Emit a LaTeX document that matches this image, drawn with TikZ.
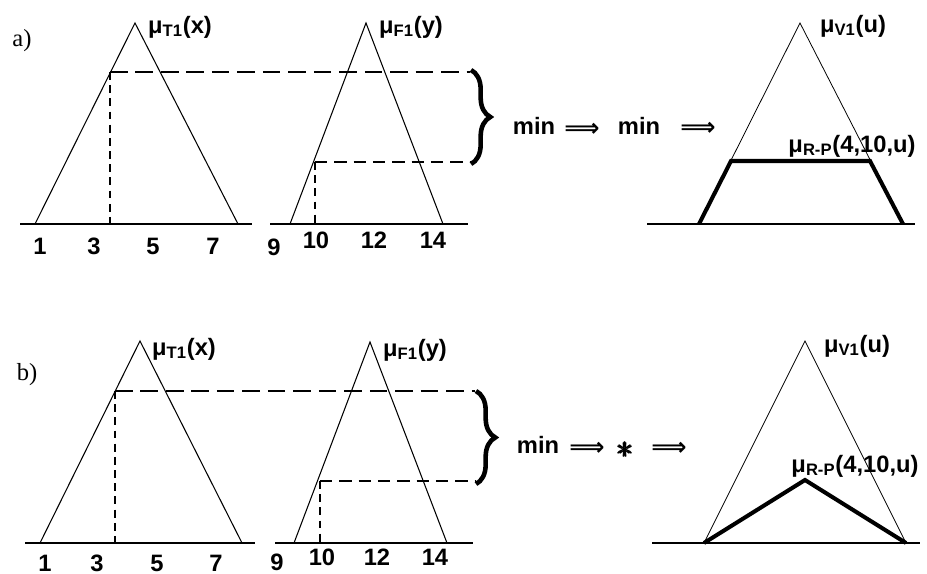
\documentclass[tikz,border=0pt]{standalone}
\usepackage{amsmath}
\usepackage{fontspec}
\setmainfont{Liberation Serif}
\newfontfamily\lblfont{Liberation Sans}
\newfontfamily\arrowfont{DejaVu Sans}
\usepackage{tikz}
\usetikzlibrary{decorations.pathreplacing}

\begin{document}
\begin{tikzpicture}[x=0.02cm,y=-0.02cm,
    memb/.style={line width=0.6pt},
    axis/.style={line width=0.8pt},
    cut/.style={line width=0.85pt,dash pattern=on 10pt off 4.5pt},
    cutlow/.style={line width=0.85pt,dash pattern=on 7pt off 4pt},
    drop/.style={line width=0.85pt,dash pattern=on 4.5pt off 3pt},
    result/.style={line width=2.3pt},
    lbl/.style={font=\lblfont\bfseries\fontsize{13.5}{15}\selectfont,inner sep=0pt},
    impl/.style={font=\arrowfont\bfseries\fontsize{14}{15}\selectfont,inner sep=0pt},
    part/.style={font=\fontsize{14}{16}\selectfont,inner sep=0pt},
    curly/.style={decorate,decoration={brace,amplitude=11pt},line width=2.6pt}]
    \useasboundingbox (0,0) rectangle (927,574);

    % a) min, then min
    \node[part] (pa) at (22,41) {a)};
    \draw[axis] (20,224)--(252,224);
    \draw[memb] (35,224)--(135,23)--(238,224);
    \node[lbl] (ta) at (180,27) {μ\textsubscript{T1}(x)};
    \draw[cut] (110,72)--(470,72);
    \draw[drop] (110,72)--(110,224);
    \node[lbl] (xa1) at (40,246) {1};
    \node[lbl] (xa3) at (94,246) {3};
    \node[lbl] (xa5) at (153,246) {5};
    \node[lbl] (xa7) at (213,246) {7};
    \draw[axis] (270,224)--(468,224);
    \draw[memb] (290,224)--(366,23)--(443,224);
    \node[lbl] (fa) at (411,27) {μ\textsubscript{F1}(y)};
    \draw[cutlow] (315,162)--(470,162);
    \draw[drop] (315,162)--(315,224);
    \node[lbl] (ya9) at (274,247) {9};
    \node[lbl] (ya10) at (316,240) {10};
    \node[lbl] (ya12) at (374,240) {12};
    \node[lbl] (ya14) at (433,240) {14};
    \draw[curly] (471,70)--(471,164);
    \node[lbl] (mina) at (534,126) {min};
    \node[impl] (ia1) at (582,130) {⟹};
    \node[lbl] (minb) at (639,126) {min};
    \node[impl] (ia2) at (698,129) {⟹};
    \draw[axis] (647,224)--(915,224);
    \draw[line width=0.45pt] (699,224)--(800,23)--(903,224);
    \node[lbl] (va) at (853,26) {μ\textsubscript{V1}(u)};
    \draw[result] (699,224)--(731,161)--(870,161)--(903,224);
    \node[lbl] (ra) at (852,146) {μ\textsubscript{R-P}(4,10,u)};

    % b) min, then product
    \node[part] (pb) at (27,375) {b)};
    \draw[axis] (25,543)--(255,543);
    \draw[memb] (40,543)--(140,341)--(242,543);
    \node[lbl] (tb) at (184,349) {μ\textsubscript{T1}(x)};
    \draw[cut] (115,391)--(475,391);
    \draw[drop] (115,391)--(115,543);
    \node[lbl] (xb1) at (45,563) {1};
    \node[lbl] (xb3) at (97,563) {3};
    \node[lbl] (xb5) at (157,563) {5};
    \node[lbl] (xb7) at (216,563) {7};
    \draw[axis] (275,543)--(473,543);
    \draw[memb] (294,543)--(370,342)--(447,543);
    \node[lbl] (fb) at (415,350) {μ\textsubscript{F1}(y)};
    \draw[cutlow] (320,481)--(475,481);
    \draw[drop] (320,481)--(320,543);
    \node[lbl] (yb9) at (277,562) {9};
    \node[lbl] (yb10) at (322,557) {10};
    \node[lbl] (yb12) at (377,557) {12};
    \node[lbl] (yb14) at (435,557) {14};
    \draw[curly] (476,391)--(476,484);
    \node[lbl] (minc) at (538,445) {min};
    \node[impl] (ib1) at (587,449) {⟹};
    \node[lbl,scale=1.35] (prod) at (626,450) {$\pmb{\ast}$};
    \node[impl] (ib2) at (669,449) {⟹};
    \draw[axis] (652,543)--(920,543);
    \draw[line width=0.45pt] (704,543)--(805,341)--(906,543);
    \node[lbl] (vb) at (857,346) {μ\textsubscript{V1}(u)};
    \draw[result] (704,543)--(805,480)--(906,543);
    \node[lbl] (rb) at (855,466) {μ\textsubscript{R-P}(4,10,u)};

\end{tikzpicture}
\end{document}
